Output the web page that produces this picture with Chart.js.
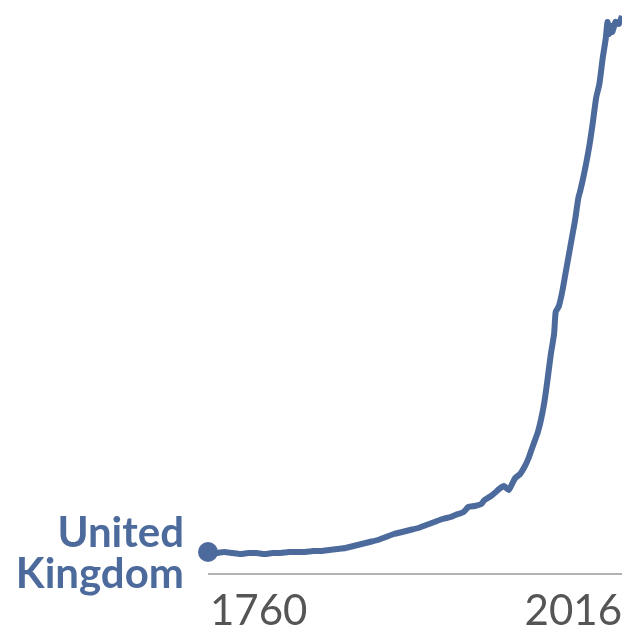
<!DOCTYPE html>
<html>
<head>
<meta charset="utf-8">
<script src="https://cdn.jsdelivr.net/npm/chart.js@4"></script>
<style>
  html, body { margin: 0; padding: 0; background: #fff; }
  #wrap { width: 640px; height: 640px; }
</style>
</head>
<body>
<div id="wrap"><canvas id="growthChart"></canvas></div>
<script>
const seriesName = ["United", "Kingdom"];
const years = [1760, 1765, 1770, 1775, 1780, 1785, 1790, 1795, 1800, 1805, 1810, 1815, 1820, 1825, 1830,
  1835, 1840, 1845, 1850, 1855, 1860, 1865, 1870, 1875, 1880, 1885, 1890, 1895, 1900, 1905, 1910,
  1913, 1918, 1921, 1925, 1929, 1931, 1935, 1938, 1940, 1943, 1946, 1948, 1950, 1953, 1956, 1958,
  1960, 1962, 1964, 1966, 1968, 1970, 1972, 1974, 1975, 1977, 1979, 1981, 1983, 1985, 1987, 1989,
  1990, 1992, 1994, 1996, 1998, 2000, 2002, 2004, 2006, 2007, 2008, 2009, 2010, 2012, 2014, 2016];
const values = [22, 21, 22, 21, 20, 21, 21, 20, 21, 21, 22, 22, 22, 23, 23,
  24, 25, 26, 28, 30, 32, 34, 37, 40, 42, 44, 46, 49, 52, 55, 57,
  59, 62, 67, 68, 70, 74, 78, 82, 85, 88, 84, 90, 96, 100, 108, 115,
  124, 133, 142, 155, 172, 195, 220, 240, 262, 268, 282, 300, 318, 336, 354, 376,
  382, 396, 412, 430, 452, 476, 490, 515, 536, 552, 540, 548, 542, 552, 550, 558];
const xTicks = [1760, 2016];

const lineColor = "#4c6a9c";

const overlayPlugin = {
  id: "overlay",
  afterDraw(chart) {
    const ctx = chart.ctx;
    const xs = chart.scales.x;
    const area = chart.chartArea;
    ctx.save();
    // baseline
    ctx.strokeStyle = "#999";
    ctx.lineWidth = 1.5;
    ctx.beginPath();
    ctx.moveTo(area.left, area.bottom);
    ctx.lineTo(area.right, area.bottom);
    ctx.stroke();
    // tick labels
    ctx.fillStyle = "#555";
    ctx.font = "42px Lato";
    ctx.textBaseline = "alphabetic";
    ctx.textAlign = "left";
    ctx.fillText(String(xTicks[0]), xs.getPixelForValue(xTicks[0]) + 2, 625);
    ctx.textAlign = "right";
    ctx.fillText(String(xTicks[1]), xs.getPixelForValue(xTicks[1]), 625);
    // series label
    const p = chart.getDatasetMeta(0).data[0];
    ctx.fillStyle = lineColor;
    ctx.font = "bold 42px Lato";
    ctx.textAlign = "right";
    ctx.fillText(seriesName[0], 184, 547);
    ctx.fillText(seriesName[1], 184, 588);
    // start dot
    ctx.beginPath();
    ctx.arc(p.x, p.y, 10, 0, Math.PI * 2);
    ctx.fill();
    ctx.restore();
  },
};

new Chart(document.getElementById("growthChart"), {
  type: "line",
  data: {
    datasets: [
      {
        data: years.map((y, i) => ({ x: y, y: values[i] })),
        borderColor: lineColor,
        borderWidth: 6,
        pointRadius: 0,
        tension: 0.2,
      },
    ],
  },
  options: {
    responsive: true,
    maintainAspectRatio: false,
    animation: false,
    plugins: { legend: { display: false }, tooltip: { enabled: false } },
    layout: { padding: { top: 14, right: 18, bottom: 66, left: 208 } },
    scales: {
      x: { type: "linear", min: 1760, max: 2016, display: false },
      y: { min: 0, max: 560, display: false },
    },
  },
  plugins: [overlayPlugin],
});
</script>
</body>
</html>
